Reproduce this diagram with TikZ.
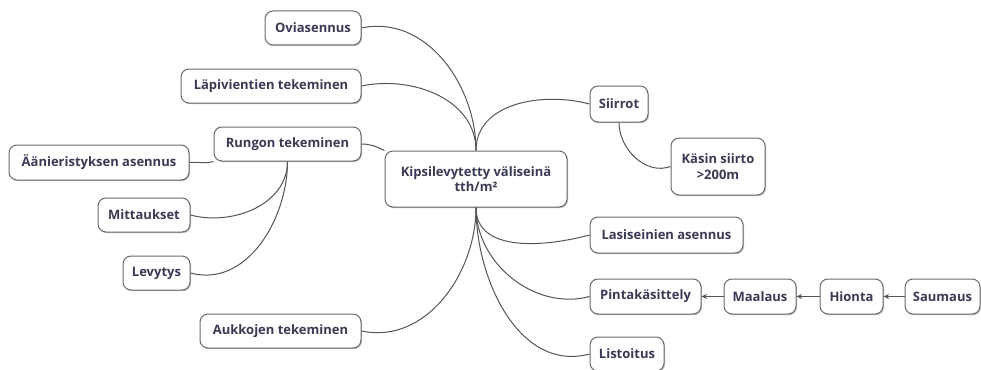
\documentclass[tikz,border=0pt]{standalone}
\usepackage{fontspec}
\setmainfont{Open Sans}
\usetikzlibrary{arrows.meta,shadows,backgrounds}
\definecolor{txt}{HTML}{3A3A55}
\definecolor{bord}{HTML}{6A6A6A}
\definecolor{edge}{HTML}{555555}
\tikzset{
  box/.style={draw=bord, line width=1pt, rounded corners=8pt, fill=white,
    text=txt, font=\fontsize{13}{15.5}\selectfont\bfseries, inner sep=2pt, align=center,
    drop shadow={shadow xshift=1pt, shadow yshift=-1.2pt, opacity=0.25, fill=black}},
  link/.style={draw=edge, line width=1pt},
  flow/.style={draw=edge, line width=1pt, -{Stealth[length=5.5pt,width=5pt]}}
}
\begin{document}
\begin{tikzpicture}[x=1pt,y=-1pt]
\useasboundingbox (0,0) rectangle (981,369);
\node[box, minimum width=96pt, minimum height=34pt] (ovi) at (313,28) {Oviasennus};
\node[box, minimum width=180pt, minimum height=34pt] (lap) at (271,86) {Läpivientien tekeminen};
\node[box, minimum width=147pt, minimum height=34pt] (run) at (287.5,144) {Rungon tekeminen};
\node[box, minimum width=180pt, minimum height=35pt] (aan) at (99,162.5) {Äänieristyksen asennus};
\node[box, minimum width=92pt, minimum height=34pt] (mit) at (144,215) {Mittaukset};
\node[box, minimum width=67pt, minimum height=34pt] (lev) at (156.5,273) {Levytys};
\node[box, minimum width=161pt, minimum height=34pt] (auk) at (280.5,331) {Aukkojen tekeminen};
\node[box, minimum width=182pt, minimum height=56pt] (kip) at (476,179) {Kipsilevytetty väliseinä\\tth/m²};
\node[box, minimum width=58pt, minimum height=36pt] (sii) at (619,104) {Siirrot};
\node[box, minimum width=94pt, minimum height=57pt] (kas) at (718,166.5) {Käsin siirto\\>200m};
\node[box, minimum width=153pt, minimum height=36pt] (las) at (666.5,235) {Lasiseinien asennus};
\node[box, minimum width=111pt, minimum height=35pt] (pin) at (645.5,296.5) {Pintakäsittely};
\node[box, minimum width=72pt, minimum height=35pt] (maa) at (760,296.5) {Maalaus};
\node[box, minimum width=63pt, minimum height=35pt] (hio) at (851.5,296.5) {Hionta};
\node[box, minimum width=75pt, minimum height=35pt] (sau) at (942.5,296.5) {Saumaus};
\node[box, minimum width=74pt, minimum height=34pt] (lis) at (627,354) {Listoitus};
\begin{scope}[on background layer]
\draw[link] (kip.north) to[out=90,in=12] (ovi.east);
\draw[link] (kip.north) to[out=90,in=12] (lap.east);
\draw[link] (run.east) to[out=0,in=155] (kip.north west);
\draw[link] (kip.north) to[out=90,in=165] (sii.west);
\draw[link] (sii.south) to[out=-90,in=200] (kas.west);
\draw[link] (kip.south) to[out=-90,in=-12] (auk.east);
\draw[link] (kip.south) to[out=-90,in=195] (las.west);
\draw[link] (kip.south) to[out=-90,in=195] (pin.west);
\draw[link] (kip.south) to[out=-90,in=195] (lis.west);
\draw[link] (aan.east) to[out=5,in=195] (run.south west);
\draw[link] (run.south) to[out=-90,in=-15] (mit.east);
\draw[link] (run.south) to[out=-90,in=-15] (lev.east);
\end{scope}
\draw[flow] (sau.west) -- (hio.east);
\draw[flow] (hio.west) -- (maa.east);
\draw[flow] (maa.west) -- (pin.east);
\end{tikzpicture}
\end{document}
